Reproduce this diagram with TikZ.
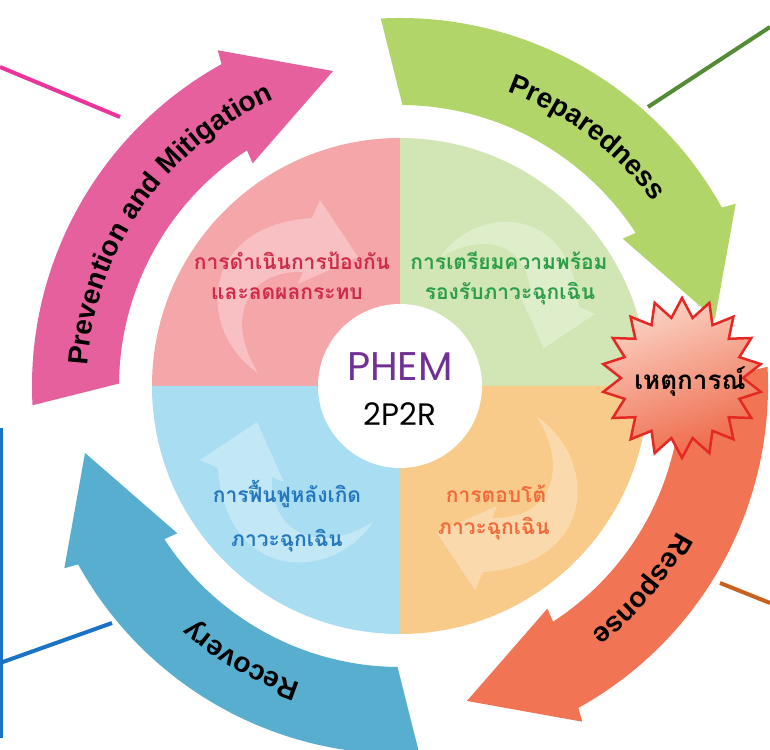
\documentclass[tikz,border=0pt]{standalone}
\usepackage{fontspec}
\usetikzlibrary{calc,decorations.text}
\newfontfamily\lsans{Liberation Sans}
\newfontfamily\thaifont[Script=Thai]{Loma}
\newfontfamily\popfont{Poppins}

\definecolor{arrPink}{RGB}{229,96,156}
\definecolor{arrGreen}{RGB}{178,213,106}
\definecolor{arrOrange}{RGB}{241,117,84}
\definecolor{arrBlue}{RGB}{87,174,207}
\definecolor{qPink}{RGB}{245,166,169}
\definecolor{qGreen}{RGB}{209,230,180}
\definecolor{qOrange}{RGB}{248,203,138}
\definecolor{qBlue}{RGB}{168,221,242}
\definecolor{tPink}{RGB}{205,45,75}
\definecolor{tGreen}{RGB}{45,158,72}
\definecolor{tOrange}{RGB}{240,108,60}
\definecolor{tBlue}{RGB}{38,120,190}
\definecolor{phem}{RGB}{112,48,150}
\definecolor{lPink}{RGB}{232,52,155}
\definecolor{lGreen}{RGB}{84,139,53}
\definecolor{lOrange}{RGB}{200,98,30}
\definecolor{lBlue}{RGB}{26,115,196}
\definecolor{starRed}{RGB}{228,40,36}
\definecolor{starLight}{RGB}{251,212,198}
\definecolor{starDark}{RGB}{238,104,72}

\newcommand\arrowfont{\lsans\bfseries\fontsize{28}{30}\selectfont}
\newcommand\qfont{\thaifont\bfseries\fontsize{21}{24}\selectfont}

\newcommand\bigArrow[2]{%
  \pgfmathsetmacro\angA{#1+3}%
  \pgfmathsetmacro\angB{#1-61}%
  \pgfmathsetmacro\angW{#1-61.5}%
  \pgfmathsetmacro\angT{#1-78}%
  \pgfmathsetmacro\angV{#1-56.5}%
  \pgfmathsetmacro\angN{#1-57}%
  \pgfmathsetmacro\angE{#1-0.5}%
  \fill[#2] ($(C)+(\angA:368)$) arc[start angle=\angA, end angle=\angB, radius=368]
    -- ($(C)+(\angW:382)$) -- ($(C)+(\angT:322)$) -- ($(C)+(\angV:267)$)
    -- ($(C)+(\angN:281)$) arc[start angle=\angN, end angle=\angE, radius=281] -- cycle;
}

\newcommand\innerArrow[4]{%
  \fill[white, fill opacity=0.3, shift={(#1,#2)}, rotate=#3, scale=#4]
    (-32,-73) .. controls (-95,-30) and (-90,75) .. (22,82) -- (30,100) -- (68,43)
    -- (8,16) -- (13,28) .. controls (-45,30) and (-65,-20) .. (-32,-73) -- cycle;
}

\newcommand\arcLabel[2]{% #1 centre angle, #2 text
  \pgfmathsetmacro\labA{#1+50}%
  \pgfmathsetmacro\labB{#1-50}%
  \path[decorate, decoration={text along path, text={|\arrowfont|#2}, text align=center, text color=black}]
    ($(C)+(\labA:313)$) arc[start angle=\labA, end angle=\labB, radius=313];
}

\begin{document}
\begin{tikzpicture}[x=1pt,y=1pt,
  linkline/.style={line width=4pt},
  qtext/.style={font=\qfont, anchor=base, inner sep=0pt}]
\useasboundingbox (0,0) rectangle (770,749);
\fill[white] (0,0) rectangle (770,749);
\clip (0,0) rectangle (770,749);
\coordinate (C) at (400,363);

% connector lines to the sides
\coordinate (pinkA) at (0,682);   \coordinate (pinkB) at (120,632);
\coordinate (greenA) at (648,642); \coordinate (greenB) at (770,722);
\coordinate (orA) at (720,166);   \coordinate (orB) at (770,146);
\coordinate (blTop) at (1.5,321); \coordinate (blBot) at (1.5,11);
\coordinate (blA) at (0,86);      \coordinate (blB) at (112,126);
\draw[linkline, lPink] (pinkA) -- (pinkB);
\draw[linkline, lGreen] (greenA) -- (greenB);
\draw[linkline, lOrange] (orA) -- (orB);
\draw[line width=3pt, lBlue] (blTop) -- (blBot);
\draw[linkline, lBlue] (blA) -- (blB);

% big outer arrows
\bigArrow{180}{arrPink}
\bigArrow{90}{arrGreen}
\bigArrow{0}{arrOrange}
\bigArrow{270}{arrBlue}

% quadrant disc
\fill[qPink] (C) -- +(180:248) arc[start angle=180, end angle=90, radius=248] -- cycle;
\fill[qGreen] (C) -- +(90:248) arc[start angle=90, end angle=0, radius=248] -- cycle;
\fill[qOrange] (C) -- +(0:248) arc[start angle=0, end angle=-90, radius=248] -- cycle;
\fill[qBlue] (C) -- +(270:248) arc[start angle=270, end angle=180, radius=248] -- cycle;

% faint inner arrows
\innerArrow{290}{449}{0}{1}
\innerArrow{505}{462}{-90}{0.9}
\innerArrow{505}{259}{-180}{1}
\innerArrow{300}{259}{90}{1}

% quadrant texts
\node[qtext, text=tPink] (p1) at (292,479) {การดำเนินการป้องกัน};
\node[qtext, text=tPink] (p2) at (287,449) {และลดผลกระทบ};
\node[qtext, text=tGreen] (g1) at (509,479) {การเตรียมความพร้อม};
\node[qtext, text=tGreen] (g2) at (510,449) {รองรับภาวะฉุกเฉิน};
\node[qtext, text=tOrange] (o1) at (496,246) {การตอบโต้};
\node[qtext, text=tOrange] (o2) at (494,214) {ภาวะฉุกเฉิน};
\node[qtext, text=tBlue] (b1) at (287,246) {การฟื้นฟูหลังเกิด};
\node[qtext, text=tBlue] (b2) at (287,202) {ภาวะฉุกเฉิน};

% centre circle
\fill[white] (C) circle[radius=82];
\node[font=\popfont\fontsize{40}{40}\selectfont, text=phem, inner sep=0pt] (phemt) at (400,382) {PHEM};
\node[font=\popfont\fontsize{31}{31}\selectfont, text=black, inner sep=0pt] (pprt) at (400,335) {2P2R};

% star burst
\coordinate (S) at (682,371);
\path[draw=starRed, line width=2.5pt, top color=starLight, bottom color=starDark, shading angle=20]
  ($(S)+(90:80)$) \foreach \i in {1,...,35} { -- ($(S)+({90+\i*10}:{70.5+9.5*cos(\i*180)})$) } -- cycle;
\node[font=\thaifont\bfseries\fontsize{26}{26}\selectfont, anchor=base, inner sep=0pt] (event) at (690,359) {เหตุการณ์};

% arrow labels
\arcLabel{145}{Prevention and Mitigation}
\arcLabel{53}{Preparedness}
\arcLabel{-40}{Response}
\arcLabel{240}{Recovery}
\end{tikzpicture}
\end{document}
